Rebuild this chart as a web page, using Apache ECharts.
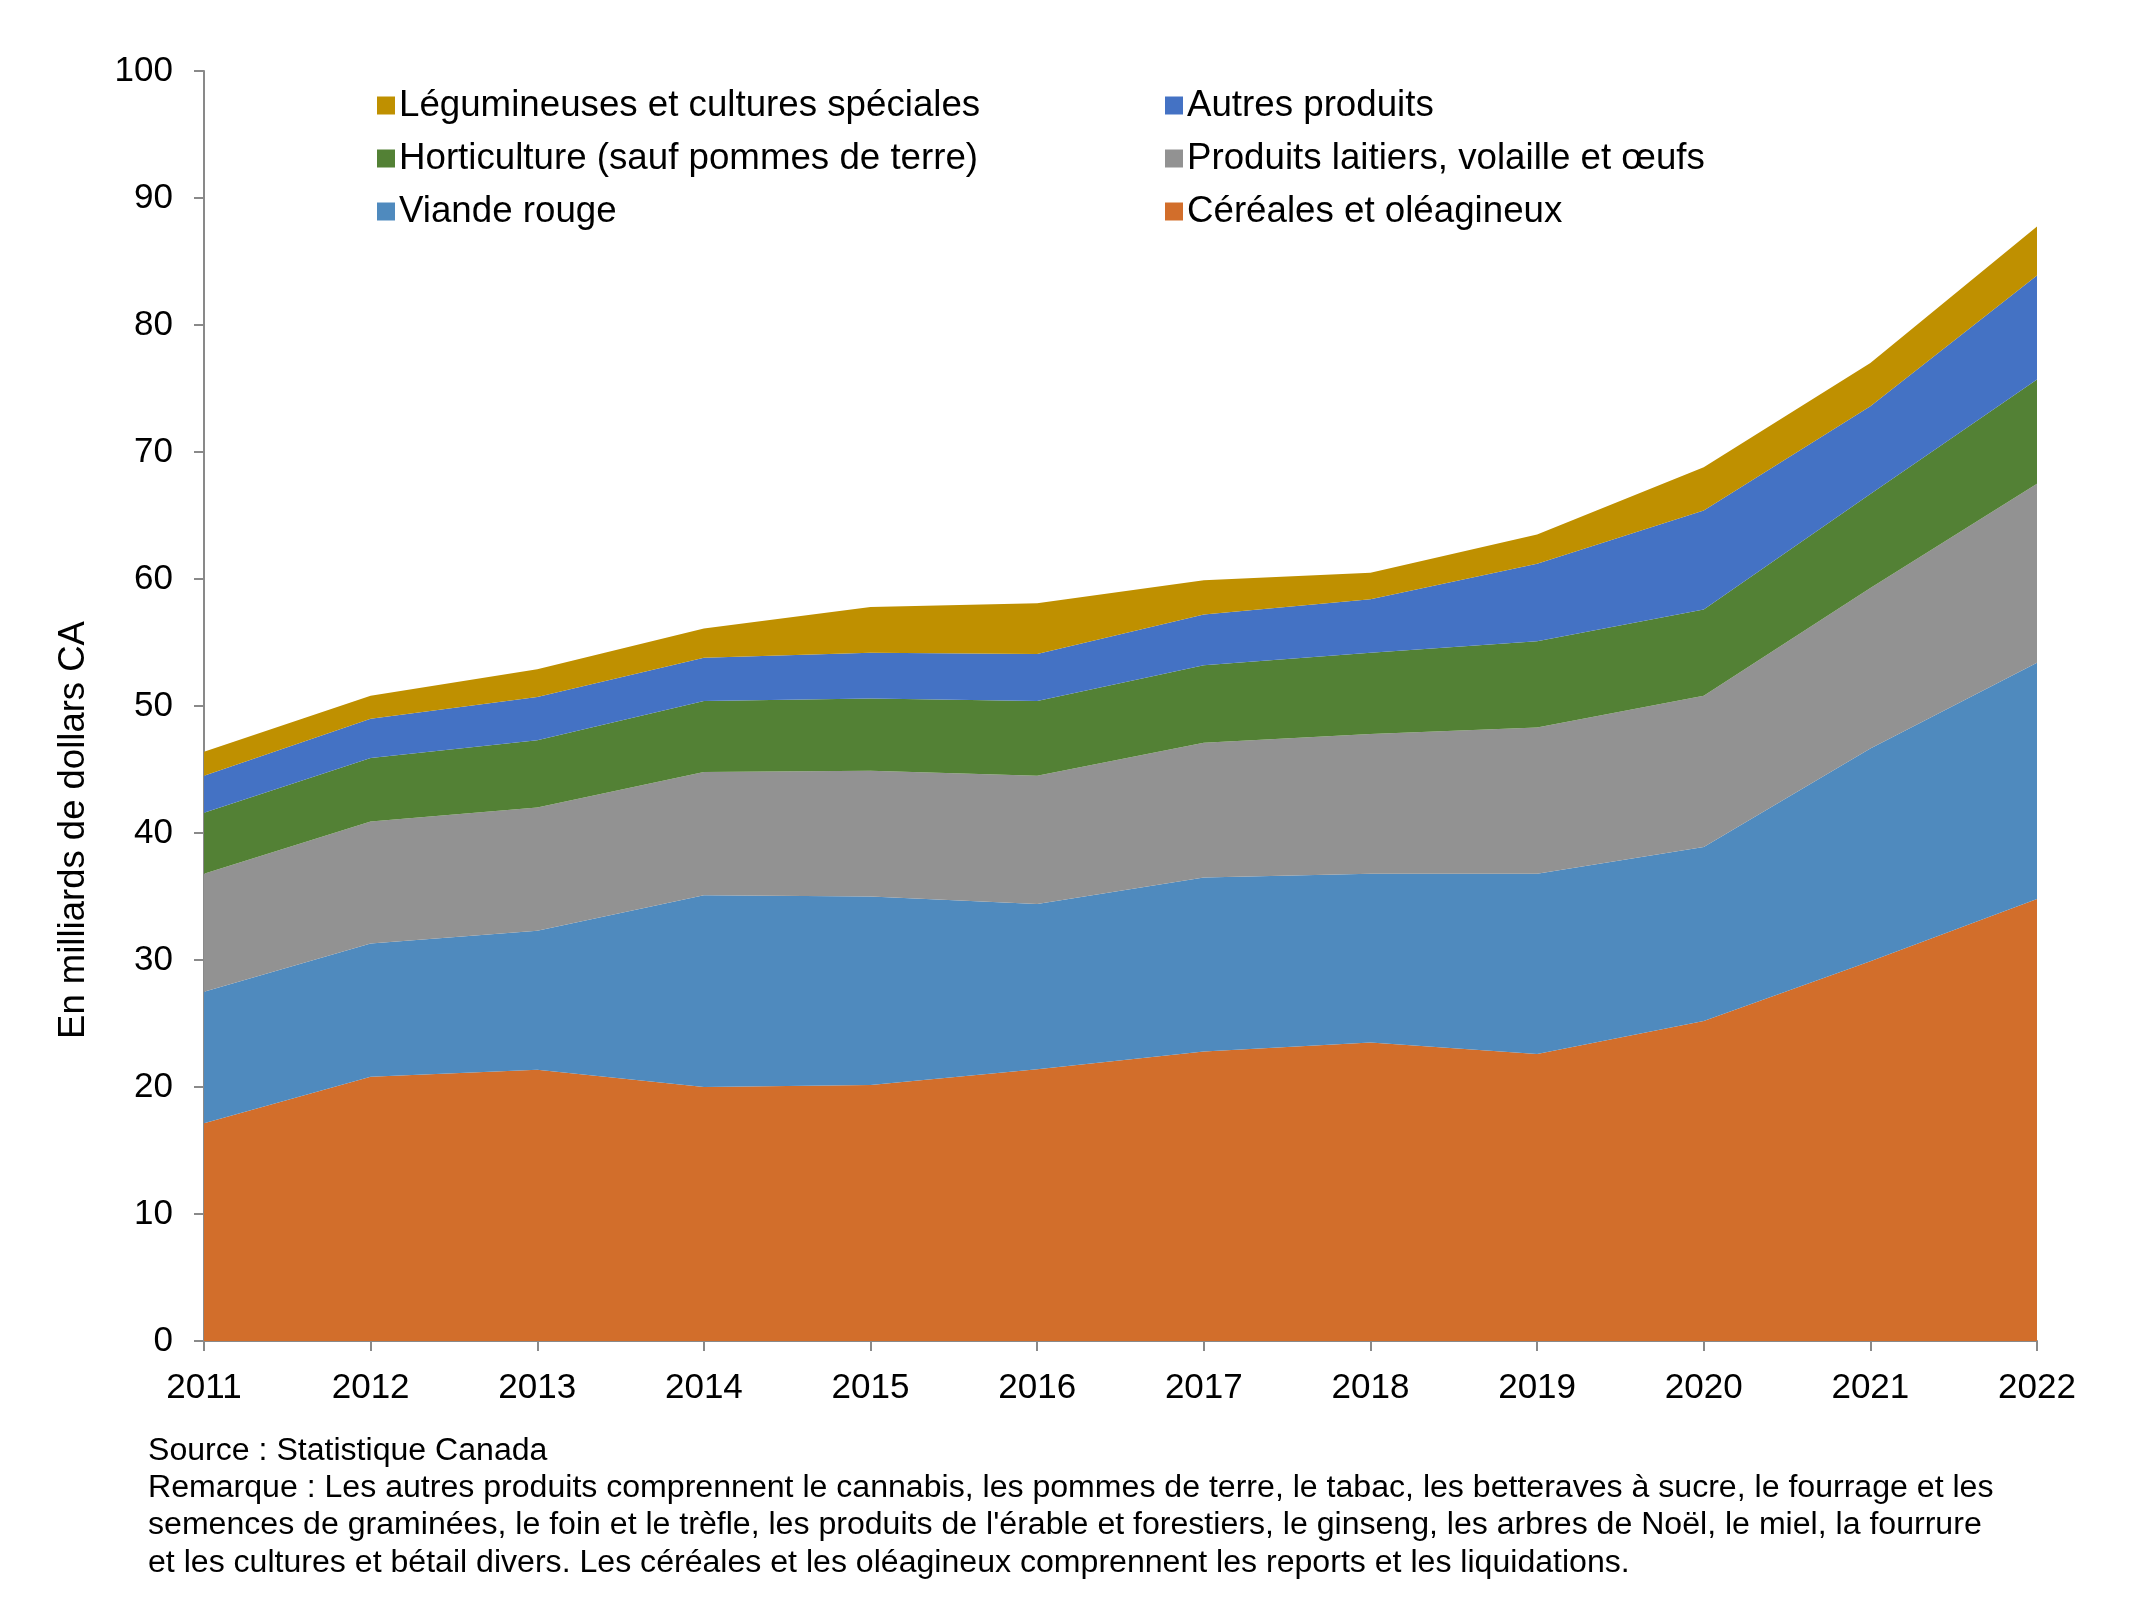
<!DOCTYPE html>
<html>
<head>
<meta charset="utf-8">
<script src="https://cdn.jsdelivr.net/npm/echarts@6/dist/echarts.min.js"></script>
<style>
html,body{margin:0;padding:0;background:#fff;}
#c{width:2145px;height:1624px;}
</style>
</head>
<body>
<div id="c"></div>
<script>
const years = ['2011','2012','2013','2014','2015','2016','2017','2018','2019','2020','2021','2022'];
const cereales = [17.15, 20.8, 21.35, 20.0, 20.15, 21.4, 22.8, 23.5, 22.6, 25.2, 29.9, 34.8];
const viande = [10.35, 10.5, 10.95, 15.1, 14.85, 13.0, 13.7, 13.3, 14.2, 13.7, 16.75, 18.6];
const laitiers = [9.3, 9.6, 9.7, 9.7, 9.9, 10.1, 10.6, 11.0, 11.5, 11.9, 12.65, 14.1];
const horticulture = [4.8, 5.0, 5.3, 5.6, 5.7, 5.9, 6.1, 6.4, 6.8, 6.8, 7.4, 8.2];
const autres = [2.9, 3.1, 3.4, 3.4, 3.6, 3.7, 4.0, 4.2, 6.1, 7.8, 6.9, 8.2];
const legumineuses = [1.9, 1.8, 2.2, 2.3, 3.6, 4.0, 2.7, 2.1, 2.3, 3.4, 3.4, 3.85];

const names = {
  cer: 'Céréales et oléagineux',
  via: 'Viande rouge',
  lai: 'Produits laitiers, volaille et œufs',
  hor: 'Horticulture (sauf pommes de terre)',
  aut: 'Autres produits',
  leg: 'Légumineuses et cultures spéciales'
};
const footLines = [
  'Source : Statistique Canada',
  'Remarque : Les autres produits comprennent le cannabis, les pommes de terre, le tabac, les betteraves à sucre, le fourrage et les',
  'semences de graminées, le foin et le trèfle, les produits de l\'érable et forestiers, le ginseng, les arbres de Noël, le miel, la fourrure',
  'et les cultures et bétail divers. Les céréales et les oléagineux comprennent les reports et les liquidations.'
];
const yTitle = 'En milliards de dollars CA';

const FONT = '"Liberation Sans", Arial, sans-serif';
function area(name, data, color) {
  return {
    name: name, type: 'line', stack: 'total', data: data,
    symbol: 'none', smooth: false,
    lineStyle: {width: 0},
    itemStyle: {color: color},
    areaStyle: {color: color, opacity: 1}
  };
}
const legendCommon = {
  orient: 'vertical', itemWidth: 18, itemHeight: 18, itemGap: 16,
  icon: 'rect',
  textStyle: {fontFamily: FONT, fontSize: 36.7, color: '#000', padding: [0,0,0,-1]},
  selectedMode: false
};
const chart = echarts.init(document.getElementById('c'));
chart.setOption({
  animation: false,
  backgroundColor: '#fff',
  grid: {left: 204, right: 108, top: 71, bottom: 283},
  legend: [
    Object.assign({}, legendCommon, {left: 372, top: 82, data: [names.leg, names.hor, names.via]}),
    Object.assign({}, legendCommon, {left: 1160, top: 82, data: [names.aut, names.lai, names.cer]})
  ],
  xAxis: {
    type: 'category', data: years, boundaryGap: false,
    axisLine: {lineStyle: {color: '#898989', width: 2}},
    axisTick: {show: true, length: 10, lineStyle: {color: '#898989', width: 2}},
    axisLabel: {fontFamily: FONT, fontSize: 35, color: '#000', margin: 30}
  },
  yAxis: {
    type: 'value', min: 0, max: 100, interval: 10,
    splitLine: {show: false},
    axisLine: {show: true, lineStyle: {color: '#898989', width: 2}},
    axisTick: {show: true, length: 10, lineStyle: {color: '#898989', width: 2}},
    axisLabel: {fontFamily: FONT, fontSize: 35, color: '#000', margin: 31}
  },
  graphic: [
    {type: 'text', x: 74, y: 830, rotation: Math.PI / 2,
     style: {text: yTitle, fontFamily: FONT, fontSize: 36.5, fill: '#000', textAlign: 'center', textVerticalAlign: 'middle'}}
  ].concat(footLines.map((t, i) => ({
    type: 'text', x: 148, y: 1451 + i * 37.3,
    style: {text: t, fontFamily: FONT, fontSize: 32.1, fill: '#000', textAlign: 'left', textVerticalAlign: 'middle'}
  }))),
  series: [
    area(names.cer, cereales, '#D26E2B'),
    area(names.via, viande, '#4F8ABE'),
    area(names.lai, laitiers, '#929292'),
    area(names.hor, horticulture, '#538135'),
    area(names.aut, autres, '#4472C4'),
    area(names.leg, legumineuses, '#BF9000')
  ]
});
</script>
</body>
</html>
